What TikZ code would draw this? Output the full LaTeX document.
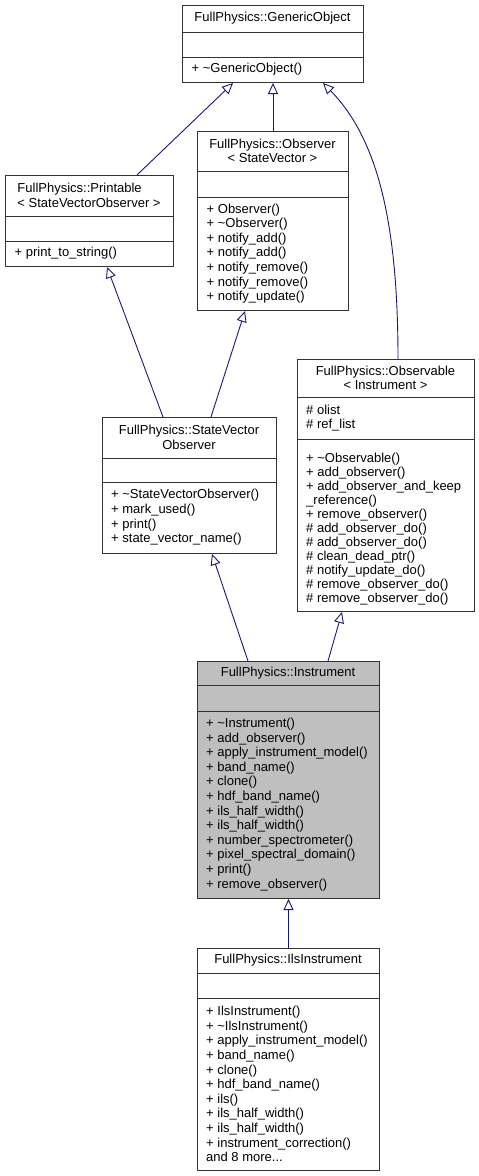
\documentclass[tikz,border=0pt]{standalone}
\usepackage{fontspec}
\setmainfont{Liberation Sans}
\usetikzlibrary{arrows.meta}
\definecolor{edgeblue}{HTML}{191970}
\definecolor{boxline}{HTML}{333333}
\definecolor{insfill}{HTML}{BFBFBF}
\begin{document}
\begin{tikzpicture}[x=1pt,y=-1pt,
  cls/.style={draw=boxline, line width=1pt, fill=white, inner sep=0pt, anchor=north west},
  sep/.style={draw=boxline, line width=1pt},
  ttl/.style={inner sep=0pt, align=center, font=\fontsize{13}{14.6}\selectfont},
  ttlleft/.style={inner sep=0pt, align=left, font=\fontsize{13}{14.6}\selectfont},
  mem/.style={inner sep=0pt, align=left, anchor=west, font=\fontsize{13}{14.6}\selectfont},
  memtight/.style={inner sep=0pt, align=left, anchor=west, font=\fontsize{13}{14}\selectfont},
  inh/.style={draw=edgeblue, line width=0.9pt, -{Triangle[open, length=11pt, width=10pt, fill=white]}},
]
\useasboundingbox[fill=white] (0,0) rectangle (479,1176);

% GenericObject
\node[cls, minimum width=181pt, minimum height=77pt] (go) at (182,5) {};
\draw[sep] (182,32) -- (363,32);
\draw[sep] (182,57) -- (363,57);
\node[ttl] (go-t) at (272.5,18.5) {FullPhysics::GenericObject};
\node[mem] (go-m) at (191.5,69.5) {+ \textasciitilde GenericObject()};

% Printable
\node[cls, minimum width=168pt, minimum height=91pt] (pr) at (5,175) {};
\draw[sep] (5,216) -- (173,216);
\draw[sep] (5,241) -- (173,241);
\node[ttlleft] (pr-t) at (89,195.5) {FullPhysics::Printable\\< StateVectorObserver >};
\node[mem] (pr-m) at (14.5,253.5) {+ print\_to\_string()};

% Observer
\node[cls, minimum width=151pt, minimum height=179pt] (ob) at (197,131) {};
\draw[sep] (197,171) -- (348,171);
\draw[sep] (197,197) -- (348,197);
\node[ttl] (ob-t) at (272.5,151) {FullPhysics::Observer\\< StateVector >};
\node[mem] (ob-m) at (206.5,253.5) {+ Observer()\\+ \textasciitilde Observer()\\+ notify\_add()\\+ notify\_add()\\+ notify\_remove()\\+ notify\_remove()\\+ notify\_update()};

% Observable
\node[cls, minimum width=177pt, minimum height=252pt] (obs) at (297,359) {};
\draw[sep] (297,397) -- (474,397);
\draw[sep] (297,439) -- (474,439);
\node[ttl, font=\fontsize{13}{14}\selectfont] (obs-t) at (385.5,378) {FullPhysics::Observable\\< Instrument >};
\node[mem] (obs-a) at (306,418) {\# olist\\\# ref\_list};
\node[memtight] (obs-m) at (306,529) {+ \textasciitilde Observable()\\+ add\_observer()\\+ add\_observer\_and\_keep\\\_reference()\\+ remove\_observer()\\\# add\_observer\_do()\\\# add\_observer\_do()\\\# clean\_dead\_ptr()\\\# notify\_update\_do()\\\# remove\_observer\_do()\\\# remove\_observer\_do()};

% StateVectorObserver
\node[cls, minimum width=174pt, minimum height=136pt] (svo) at (102,417) {};
\draw[sep] (102,458) -- (276,458);
\draw[sep] (102,482) -- (276,482);
\node[ttl] (svo-t) at (189,437.5) {FullPhysics::StateVector\\Observer};
\node[mem] (svo-m) at (111,517.5) {+ \textasciitilde StateVectorObserver()\\+ mark\_used()\\+ print()\\+ state\_vector\_name()};

% Instrument
\node[cls, fill=insfill, minimum width=182pt, minimum height=237pt] (ins) at (197,661) {};
\draw[sep] (197,685) -- (379,685);
\draw[sep] (197,711) -- (379,711);
\node[ttl] (ins-t) at (288,673) {FullPhysics::Instrument};
\node[mem] (ins-m) at (206,804.5) {+ \textasciitilde Instrument()\\+ add\_observer()\\+ apply\_instrument\_model()\\+ band\_name()\\+ clone()\\+ hdf\_band\_name()\\+ ils\_half\_width()\\+ ils\_half\_width()\\+ number\_spectrometer()\\+ pixel\_spectral\_domain()\\+ print()\\+ remove\_observer()};

% IlsInstrument
\node[cls, minimum width=182pt, minimum height=222pt] (ils) at (197,948) {};
\draw[sep] (197,973) -- (379,973);
\draw[sep] (197,998) -- (379,998);
\node[ttl] (ils-t) at (288,960.5) {FullPhysics::IlsInstrument};
\node[mem] (ils-m) at (206,1084) {+ IlsInstrument()\\+ \textasciitilde IlsInstrument()\\+ apply\_instrument\_model()\\+ band\_name()\\+ clone()\\+ hdf\_band\_name()\\+ ils()\\+ ils\_half\_width()\\+ ils\_half\_width()\\+ instrument\_correction()\\and 8 more...};

% Inheritance edges
\draw[inh] ([xshift=132pt]pr.north west) -- ([xshift=51pt]go.south west);
\draw[inh] (ob.north) -- (go.south);
\draw[inh] ([xshift=101pt]obs.north west) .. controls +(0,-129) and +(57,58) .. ([xshift=141pt]go.south west);
\draw[inh] ([xshift=61pt]svo.north west) -- ([xshift=102pt]pr.south west);
\draw[inh] ([xshift=109pt]svo.north west) -- ([xshift=48pt]ob.south west);
\draw[inh] ([xshift=51pt]ins.north west) -- ([xshift=110pt]svo.south west);
\draw[inh] ([xshift=131pt]ins.north west) -- ([xshift=45pt]obs.south west);
\draw[inh] (ils.north) -- (ins.south);
\end{tikzpicture}
\end{document}
